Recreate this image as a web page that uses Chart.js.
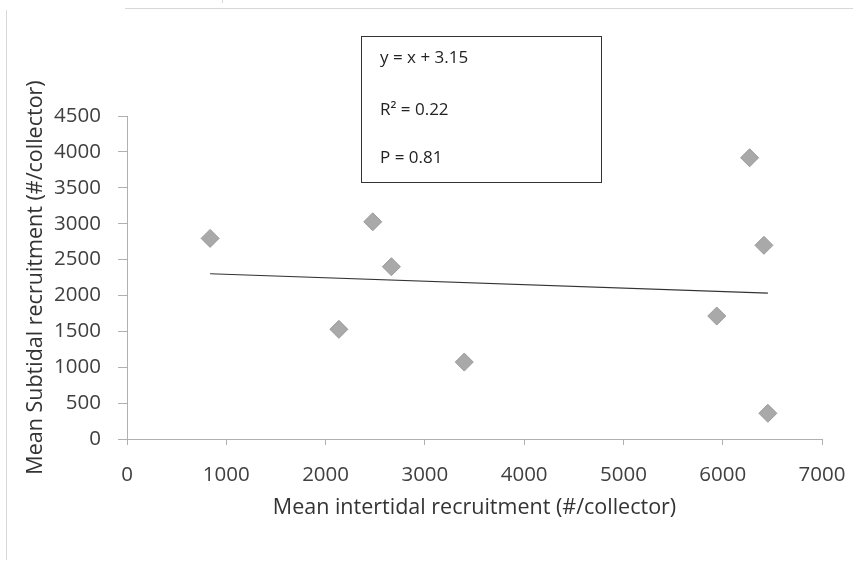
<!DOCTYPE html>
<html>
<head>
<meta charset="utf-8">
<script src="https://cdn.jsdelivr.net/npm/chart.js@4"></script>
<style>
html,body{margin:0;padding:0;background:#fff;}
#c{display:block;}
</style>
</head>
<body>
<canvas id="c" width="853" height="576"></canvas>
<script>
const intertidal = [837, 2134, 2475, 2663, 3397, 5940, 6271, 6415, 6455];
const subtidal   = [2795, 1528, 3026, 2400, 1072, 1713, 3918, 2698, 358];
const trendX = [837, 6455];
const trendY = [2302, 2033];
const xTicks = [0, 1000, 2000, 3000, 4000, 5000, 6000, 7000];
const yTicks = [0, 500, 1000, 1500, 2000, 2500, 3000, 3500, 4000, 4500];
const statLines = ['y = x + 3.15', 'R\u00B2 = 0.22', 'P = 0.81'];
const xTitle = 'Mean intertidal recruitment (#/collector)';
const yTitle = 'Mean Subtidal recruitment (#/collector)';

const FONT = "'Open Sans', sans-serif";

const decor = {
  id: 'decor',
  beforeDraw(chart) {
    const ctx = chart.ctx;
    ctx.save();
    ctx.fillStyle = '#fff';
    ctx.fillRect(0, 0, chart.width, chart.height);
    ctx.strokeStyle = '#d8d8d8';
    ctx.lineWidth = 1;
    ctx.beginPath();
    ctx.moveTo(125, 8.5); ctx.lineTo(853, 8.5);
    ctx.moveTo(6.5, 10); ctx.lineTo(6.5, 560);
    ctx.moveTo(222.5, 0); ctx.lineTo(222.5, 3);
    ctx.stroke();
    ctx.restore();
  },
  afterDraw(chart) {
    const ctx = chart.ctx;
    ctx.save();
    ctx.strokeStyle = '#333';
    ctx.lineWidth = 1;
    ctx.strokeRect(361.5, 36.5, 240, 146);
    ctx.fillStyle = '#222';
    ctx.font = "17px " + FONT;
    ctx.textBaseline = 'middle';
    ctx.textAlign = 'left';
    const ys = [58, 110, 158];
    statLines.forEach((t, i) => ctx.fillText(t, 380, ys[i]));
    ctx.restore();
  }
};

new Chart(document.getElementById('c'), {
  data: {
    datasets: [
      {
        type: 'scatter',
        data: intertidal.map((x, i) => ({x: x, y: subtidal[i]})),
        pointStyle: 'rectRot',
        pointRadius: 9,
        pointHoverRadius: 9,
        backgroundColor: '#a9a9a9',
        borderColor: '#9a9a9a',
        borderWidth: 1
      },
      {
        type: 'line',
        data: trendX.map((x, i) => ({x: x, y: trendY[i]})),
        borderColor: '#333',
        borderWidth: 1.2,
        pointRadius: 0,
        fill: false
      }
    ]
  },
  options: {
    responsive: false,
    animation: false,
    devicePixelRatio: 1,
    layout: {padding: {left: 0, top: 116, right: 31, bottom: 55}},
    plugins: {legend: {display: false}, tooltip: {enabled: false}},
    scales: {
      x: {
        type: 'linear',
        min: 0, max: 7000,
        afterBuildTicks: s => { s.ticks = xTicks.map(v => ({value: v})); },
        afterFit: s => { s.height = 82; s.paddingLeft = 0; s.paddingRight = 0; },
        grid: {drawOnChartArea: false, drawTicks: true, tickLength: 6, color: '#b0b0b0'},
        border: {display: true, color: '#b0b0b0'},
        ticks: {font: {family: FONT, size: 20.5}, color: '#404040', padding: 18, maxRotation: 0, callback: v => String(v)},
        title: {display: true, text: xTitle, font: {family: FONT, size: 21.5}, color: '#333', padding: {top: 0, bottom: 0}}
      },
      y: {
        type: 'linear',
        min: 0, max: 4500,
        afterBuildTicks: s => { s.ticks = yTicks.map(v => ({value: v})); },
        afterFit: s => { s.width = 127; s.paddingTop = 0; s.paddingBottom = 0; },
        grid: {drawOnChartArea: false, drawTicks: true, tickLength: 9, color: '#b0b0b0'},
        border: {display: true, color: '#b0b0b0'},
        ticks: {font: {family: FONT, size: 20.5}, color: '#404040', padding: 17, callback: v => String(v)},
        title: {display: true, text: yTitle, font: {family: FONT, size: 21.5}, color: '#333', padding: {top: 23, bottom: 0}}
      }
    }
  },
  plugins: [decor]
});
</script>
</body>
</html>
